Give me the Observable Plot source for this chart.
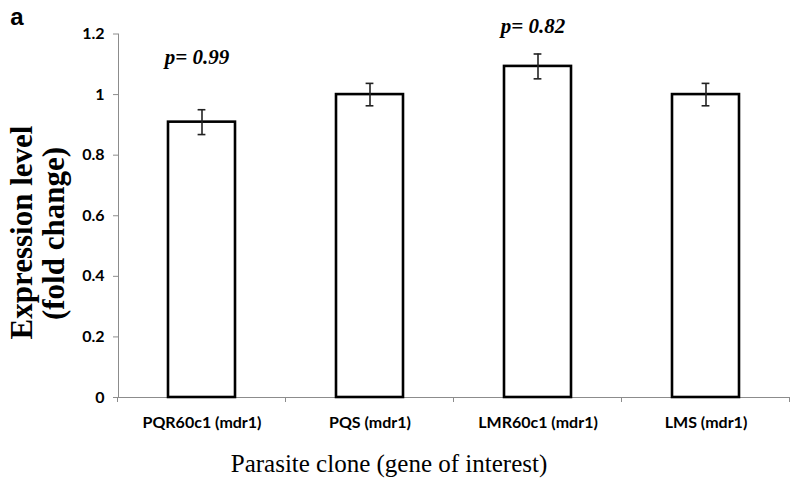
<!DOCTYPE html>
<html>
<head>
<meta charset="utf-8">
<script src="https://cdn.jsdelivr.net/npm/d3@7"></script>
<script src="https://cdn.jsdelivr.net/npm/@observablehq/plot@0.6"></script>
<style>
  html, body { margin: 0; padding: 0; background: #fff; }
  #chart svg { display: block; }
</style>
</head>
<body>
<div id="chart"></div>
<script>
// ---- data ----
const clones = ["PQR60c1 (mdr1)", "PQS (mdr1)", "LMR60c1 (mdr1)", "LMS (mdr1)"];
const expression = [0.909, 1.0, 1.093, 1.0];
const errors = [0.041, 0.037, 0.041, 0.037];
const pClones = ["PQR60c1 (mdr1)", "LMR60c1 (mdr1)"];
const pTexts = ["p= 0.99", "p= 0.82"];
const pLevels = [1.1, 1.203];
const yTicks = [0, 0.2, 0.4, 0.6, 0.8, 1, 1.2];
const yTitleLines = ["Expression level", "(fold change)"];
const xTitle = "Parasite clone (gene of interest)";
const panelLabel = "a";

const bars = clones.map((c, i) => ({clone: c, value: expression[i], err: errors[i]}));
const pData = pClones.map((c, i) => ({clone: c, text: pTexts[i], y: pLevels[i]}));

const sansTick = "Lato, 'Open Sans', sans-serif";
const serif = "'Liberation Serif', 'DejaVu Serif', serif";

const chart = Plot.plot({
  width: 800,
  height: 495,
  marginTop: 33.5,
  marginBottom: 98,
  marginLeft: 118,
  marginRight: 10,
  style: {background: "#fff", color: "#000"},
  x: {domain: clones, paddingInner: 0.6, paddingOuter: 0.3, label: null},
  y: {domain: [0, 1.2], label: null},
  marks: [
    Plot.frame({anchor: "left", stroke: "#8c8c8c", strokeWidth: 1}),
    Plot.ruleY([0], {stroke: "#8c8c8c", strokeWidth: 1}),
    Plot.barY(bars, {x: "clone", y: "value", fill: "#fff", stroke: "#000", strokeWidth: 2.6}),
    Plot.ruleX(bars, {x: "clone", y1: d => d.value - d.err, y2: d => d.value + d.err, stroke: "#222", strokeWidth: 1.6}),
    Plot.tickY(bars, {x: "clone", y: d => d.value - d.err, stroke: "#222", strokeWidth: 1.6, insetLeft: 29.6, insetRight: 29.6}),
    Plot.tickY(bars, {x: "clone", y: d => d.value + d.err, stroke: "#222", strokeWidth: 1.6, insetLeft: 29.6, insetRight: 29.6}),
    Plot.text(pData, {x: "clone", y: "y", text: "text", dx: -5, lineAnchor: "bottom",
      fontFamily: serif, fontWeight: "bold", fontStyle: "italic", fontSize: 21, fill: "#000"}),
    Plot.axisY({ticks: yTicks, tickFormat: d => String(d), tickSize: 5, tickPadding: 9,
      fontFamily: sansTick, fontWeight: "bold", fontSize: 16, stroke: "#8c8c8c", fill: "#000", label: null}),
    Plot.axisX({tickSize: 0, tickPadding: 19, fontFamily: sansTick, fontWeight: "bold", fontSize: 16, fill: "#000", label: null})
  ]
});

const svg = d3.select(chart);

// category boundary ticks on the x axis, placed from the band scale
const xs = chart.scale("x");
const ysc = chart.scale("y");
const gap = (xs.step - xs.bandwidth) / 2;
const bounds = clones.map(c => xs.apply(c) - gap).concat([xs.apply(clones[clones.length - 1]) + xs.bandwidth + gap]);
const y0 = ysc.apply(0);
svg.append("g").attr("aria-label", "category ticks")
  .selectAll("line").data(bounds).join("line")
  .attr("x1", d => d).attr("x2", d => d)
  .attr("y1", y0).attr("y2", y0 + 5)
  .attr("stroke", "#8c8c8c").attr("stroke-width", 1);

// titles
const yTitleG = svg.append("g").attr("aria-label", "y title")
  .attr("font-family", serif).attr("font-weight", "bold").attr("font-size", 31).attr("fill", "#000")
  .attr("text-anchor", "middle");
yTitleG.append("text").attr("transform", "translate(32,232.5) rotate(-90)").text(yTitleLines[0]);
yTitleG.append("text").attr("transform", "translate(63.5,233.5) rotate(-90)").text(yTitleLines[1]);

svg.append("text").attr("aria-label", "x title")
  .attr("x", 389).attr("y", 472)
  .attr("text-anchor", "middle").attr("font-family", serif).attr("font-size", 25).attr("fill", "#000")
  .text(xTitle);

svg.append("text").attr("aria-label", "panel label")
  .attr("x", 17).attr("y", 25)
  .attr("font-family", "'Liberation Sans', Arial, sans-serif").attr("font-weight", "bold").attr("font-size", 24).attr("fill", "#000")
  .text(panelLabel);

document.getElementById("chart").appendChild(chart);
</script>
</body>
</html>
